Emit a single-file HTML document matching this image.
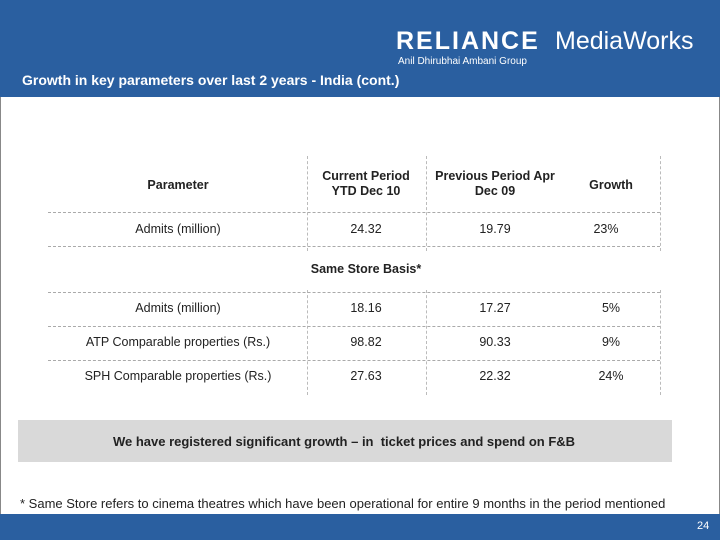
<!DOCTYPE html>
<html><head><meta charset="utf-8"><style>
body{margin:0;width:720px;height:540px;position:relative;background:#fff;font-family:"Liberation Sans",sans-serif;overflow:hidden}
.a{position:absolute}
.c{position:absolute;text-align:center;font-size:12.5px;color:#222;transform:translateX(-50%);white-space:nowrap}
.h{font-weight:bold;font-size:12.5px;line-height:15px}
.hl{position:absolute;left:48px;width:612px;border-top:1px dashed #aaa}
.vl{position:absolute;border-left:1px dashed #bbb}
</style></head><body>
<div class="a" style="left:0;top:0;width:720px;height:97px;background:#2a5fa0"></div>
<div class="a" style="left:396px;top:27px;color:#fff;font-size:25px;font-weight:bold;letter-spacing:2px">RELIANCE</div>
<div class="a" style="left:555px;top:27px;color:#fff;font-size:25px">MediaWorks</div>
<div class="a" style="left:398px;top:56px;color:#fff;font-size:10px">Anil Dhirubhai Ambani Group</div>
<div class="a" style="left:22px;top:72px;color:#fff;font-size:14px;font-weight:bold;white-space:nowrap">Growth in key parameters over last 2 years - India (cont.)</div>
<div class="a" style="left:0;top:97px;width:1px;height:420px;background:#888"></div>
<div class="a" style="left:719px;top:97px;width:1px;height:420px;background:#888"></div>

<div>
<div class="vl" style="left:307px;top:156px;height:95px"></div>
<div class="vl" style="left:426px;top:156px;height:95px"></div>
<div class="vl" style="left:660px;top:156px;height:95px"></div>
<div class="vl" style="left:307px;top:290px;height:105px"></div>
<div class="vl" style="left:426px;top:290px;height:105px"></div>
<div class="vl" style="left:660px;top:290px;height:105px"></div>
<div class="hl" style="top:212px"></div>
<div class="hl" style="top:246px"></div>
<div class="hl" style="top:292px"></div>
<div class="hl" style="top:326px"></div>
<div class="hl" style="top:360px"></div>
<div class="c h" style="left:178px;top:178px">Parameter</div>
<div class="c h" style="left:366px;top:169px">Current Period<br>YTD Dec 10</div>
<div class="c h" style="left:495px;top:169px">Previous Period Apr<br>Dec 09</div>
<div class="c h" style="left:611px;top:178px">Growth</div>
<div class="c" style="left:178px;top:222px">Admits (million)</div>
<div class="c" style="left:366px;top:222px">24.32</div>
<div class="c" style="left:495px;top:222px">19.79</div>
<div class="c" style="left:606px;top:222px">23%</div>
<div class="c h" style="left:366px;top:262px">Same Store Basis*</div>
<div class="c" style="left:178px;top:301px">Admits (million)</div>
<div class="c" style="left:366px;top:301px">18.16</div>
<div class="c" style="left:495px;top:301px">17.27</div>
<div class="c" style="left:611px;top:301px">5%</div>
<div class="c" style="left:178px;top:335px">ATP Comparable properties (Rs.)</div>
<div class="c" style="left:366px;top:335px">98.82</div>
<div class="c" style="left:495px;top:335px">90.33</div>
<div class="c" style="left:611px;top:335px">9%</div>
<div class="c" style="left:178px;top:369px">SPH Comparable properties (Rs.)</div>
<div class="c" style="left:366px;top:369px">27.63</div>
<div class="c" style="left:495px;top:369px">22.32</div>
<div class="c" style="left:611px;top:369px">24%</div>
</div>

<div class="a" style="left:18px;top:420px;width:654px;height:42px;background:#d9d9d9"></div>
<div class="c h" style="left:344px;top:434px;font-size:13px">We have registered significant growth – in&nbsp; ticket prices and spend on F&amp;B</div>
<div class="a" style="left:20px;top:496px;font-size:13px;color:#222;white-space:nowrap">* Same Store refers to cinema theatres which have been operational for entire 9 months in the period mentioned</div>
<div class="a" style="left:0;top:514px;width:720px;height:26px;background:#2a5fa0"></div>
<div class="a" style="left:697px;top:520px;font-size:11px;color:#fff">24</div>
</body></html>
